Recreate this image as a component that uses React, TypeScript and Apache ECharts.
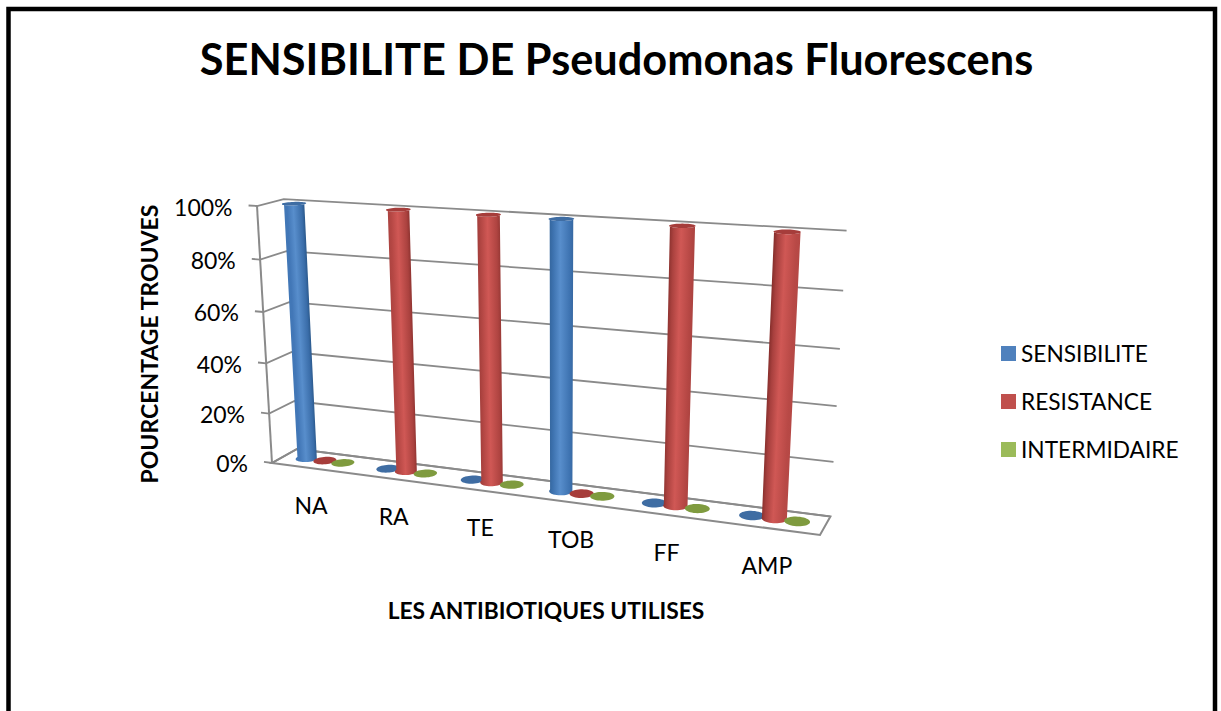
import React, { useEffect, useRef } from "react";
import * as echarts from "echarts";

const categories = ["NA", "RA", "TE", "TOB", "FF", "AMP"];
const sensibilite = [100, 0, 0, 100, 0, 0];
const resistance = [0, 100, 100, 0, 100, 100];
const intermediaire = [0, 0, 0, 0, 0, 0];
const yTicks = [0, 20, 40, 60, 80, 100];
const yTickLabels = ["0%", "20%", "40%", "60%", "80%", "100%"];
const seriesNames = ["SENSIBILITE", "RESISTANCE", "INTERMIDAIRE"];
const seriesColors = ["#4F81BD", "#C0504D", "#9BBB59"];
const FONT = "Lato, 'Open Sans', sans-serif";

const GRID = { left: 100, top: 100, width: 600, height: 400 };

// Perspective of the 3-D box: front-left-bottom corner and the three edge ends
const P0 = [272, 463];
const PX = [820, 535];
const PY = [257, 206];
const PZ = [297, 449];
const WX = -0.135;
const WY = -0.05;
const WZ = 0.03;

function vec(end: number[], w: number) {
  return [end[0] * (1 + w) - P0[0], end[1] * (1 + w) - P0[1]];
}
const BX = vec(PX, WX);
const BY = vec(PY, WY);
const BZ = vec(PZ, WZ);

function project(u: number, v: number, z: number): number[] {
  const w = 1 + WX * u + WY * v + WZ * z;
  return [
    (P0[0] + BX[0] * u + BY[0] * v + BZ[0] * z) / w,
    (P0[1] + BX[1] * u + BY[1] * v + BZ[1] * z) / w,
  ];
}

function toUnit(api: any, cat: number, val: number) {
  const p = api.coord([cat, val]);
  return [(p[0] - GRID.left) / GRID.width, (GRID.top + GRID.height - p[1]) / GRID.height];
}

const SLOT = 0.0373;
const RU = 0.0205;
const RZ = 0.25;
const ZC = 0.53;
const GREY = "#8a8a8a";

function arc(u: number, v: number, from: number, to: number, n: number) {
  const pts: number[][] = [];
  for (let k = 0; k <= n; k++) {
    const t = from + ((to - from) * k) / n;
    pts.push(project(u + RU * Math.cos(t), v, ZC + RZ * Math.sin(t)));
  }
  return pts;
}

function mix(a: number[], b: number[], t: number) {
  const c = a.map((x, i) => Math.round(x + (b[i] - x) * t));
  return `rgb(${c[0]},${c[1]},${c[2]})`;
}

const shades = [
  { mid: [88, 142, 204], side: [66, 120, 184], dark: [42, 88, 138], cap: "#3f6da3" },
  { mid: [208, 88, 85], side: [186, 74, 71], dark: [130, 44, 42], cap: "#a63d3b" },
  { mid: [160, 190, 95], side: [140, 170, 80], dark: [100, 125, 50], cap: "#7f9b3f" },
];

function cylinderRenderer(s: number) {
  return (_p: any, api: any) => {
    const cat = api.value(0);
    const val = api.value(1);
    const [u0, v] = toUnit(api, cat, val);
    const u = u0 + (s - 1) * SLOT;
    const children: any[] = [];
    const sh = shades[s];
    if (val > 0) {
      const base = arc(u, 0, Math.PI, 2 * Math.PI, 20);
      const top = arc(u, v, 2 * Math.PI, Math.PI, 20);
      const a = base[0];
      const b = base[20];
      const c = top[20];
      const d = top[0];
      // Gradient runs across the leaning cylinder, perpendicular to its axis
      const bc = [(a[0] + b[0]) / 2, (a[1] + b[1]) / 2];
      const tc = [(c[0] + d[0]) / 2, (c[1] + d[1]) / 2];
      const mc = [(bc[0] + tc[0]) / 2, (bc[1] + tc[1]) / 2];
      const ax = [tc[0] - bc[0], tc[1] - bc[1]];
      const len = Math.hypot(ax[0], ax[1]);
      const n = [-ax[1] / len, ax[0] / len];
      const half = (Math.hypot(b[0] - a[0], b[1] - a[1]) + Math.hypot(d[0] - c[0], d[1] - c[1])) / 4;
      const sign = n[0] < 0 ? -1 : 1;
      const fill = new echarts.graphic.LinearGradient(
        mc[0] - n[0] * half * sign,
        mc[1] - n[1] * half * sign,
        mc[0] + n[0] * half * sign,
        mc[1] + n[1] * half * sign,
        [
          { offset: 0, color: mix(sh.side, sh.dark, u) },
          { offset: 0.14, color: mix(sh.side, sh.dark, u * 0.35) },
          { offset: 0.45, color: mix(sh.mid, sh.mid, 0) },
          { offset: 0.86, color: mix(sh.side, sh.dark, (1 - u) * 0.35) },
          { offset: 1, color: mix(sh.side, sh.dark, 1 - u) },
        ],
        true as any
      );
      children.push({ type: "polygon", shape: { points: base.concat(top) }, style: { fill } });
    }
    children.push({
      type: "polygon",
      shape: { points: arc(u, v, 0, 2 * Math.PI, 40) },
      style: { fill: sh.cap },
    });
    return { type: "group", children };
  };
}

function wallRenderer(p: any, api: any) {
  const tick = api.value(1);
  const [, v] = toUnit(api, 0, tick);
  const children: any[] = [
    {
      type: "polyline",
      shape: { points: [project(-0.017, v, 0), project(0, v, 0), project(0, v, 1), project(1, v, 1)] },
      style: { stroke: GREY, lineWidth: 1.8, fill: "none" },
    },
  ];
  if (tick === 0) {
    children.push({
      type: "polygon",
      shape: { points: [project(0, 0, 0), project(1, 0, 0), project(1, 0, 1), project(0, 0, 1)] },
      style: { stroke: GREY, lineWidth: 2, fill: "none" },
    });
    children.push({
      type: "polyline",
      shape: { points: [project(0, 0, 0), project(0, 1, 0)] },
      style: { stroke: GREY, lineWidth: 2, fill: "none" },
    });
  }
  const tip = project(-0.017, v, 0);
  children.push({
    type: "text",
    style: {
      text: yTickLabels[p.dataIndex],
      x: tip[0] - 16,
      y: tip[1] + 1,
      align: "right",
      verticalAlign: "middle",
      fontSize: 23,
      fontFamily: FONT,
      fill: "#000",
    },
  });
  return { type: "group", children };
}

function categoryLabelRenderer(_p: any, api: any) {
  const cat = api.value(0);
  const [u] = toUnit(api, cat, 0);
  const p = project(u, 0, 0);
  return {
    type: "text",
    style: {
      text: categories[cat],
      x: p[0] - 1,
      y: p[1] + 37,
      align: "center",
      verticalAlign: "middle",
      fontSize: 23,
      fontFamily: FONT,
      fill: "#000",
    },
  };
}

export default function App() {
  const ref = useRef<HTMLDivElement>(null);
  useEffect(() => {
    const chart = echarts.init(ref.current!, undefined, { renderer: "svg" });
    const values = [sensibilite, resistance, intermediaire];
    chart.setOption({
      animation: false,
      backgroundColor: "#fff",
      color: seriesColors,
      title: {
        text: "SENSIBILITE DE Pseudomonas Fluorescens",
        left: 611.5,
        top: 31,
        textAlign: "center",
        textStyle: { fontFamily: FONT, fontWeight: "bold", fontSize: 43.3, color: "#000" },
      },
      legend: {
        orient: "vertical",
        left: 1001,
        top: 342,
        padding: 0,
        itemWidth: 15,
        itemHeight: 15,
        itemGap: 25,
        itemStyle: { borderWidth: 0 },
        selectedMode: false,
        data: seriesNames.map((name, i) => ({ name, icon: "rect", itemStyle: { color: seriesColors[i] } })),
        textStyle: { fontFamily: FONT, fontSize: 22.7, color: "#000" },
      },
      grid: GRID,
      xAxis: { type: "category", data: categories, show: false },
      yAxis: { type: "value", min: 0, max: 100, interval: 20, show: false },
      graphic: [
        {
          type: "rect",
          shape: { x: 8.5, y: 9, width: 1206.5, height: 760 },
          style: { fill: "none", stroke: "#000", lineWidth: 4.5 },
          silent: true,
        },
        {
          type: "text",
          style: {
            text: "LES ANTIBIOTIQUES UTILISES",
            x: 546,
            y: 610,
            align: "center",
            verticalAlign: "middle",
            fontSize: 22.8,
            fontWeight: "bold",
            fontFamily: FONT,
            fill: "#000",
          },
        },
        {
          type: "text",
          x: 149,
          y: 344,
          rotation: Math.PI / 2,
          style: {
            text: "POURCENTAGE TROUVES",
            x: 0,
            y: 0,
            align: "center",
            verticalAlign: "middle",
            fontSize: 23,
            fontWeight: "bold",
            fontFamily: FONT,
            fill: "#000",
          },
        },
      ],
      series: [
        ...seriesNames.map((name, s) => ({
          type: "custom",
          name,
          z: 5,
          clip: false,
          itemStyle: { color: seriesColors[s] },
          renderItem: cylinderRenderer(s),
          data: values[s].map((v, i) => [i, v]),
        })),
        {
          type: "custom",
          name: "axes",
          z: 1,
          clip: false,
          silent: true,
          renderItem: wallRenderer,
          data: yTicks.map((t) => [0, t]),
        },
        {
          type: "custom",
          name: "categoryLabels",
          z: 1,
          clip: false,
          silent: true,
          renderItem: categoryLabelRenderer,
          data: categories.map((_, i) => [i, 0]),
        },
      ],
    });
    return () => chart.dispose();
  }, []);
  return <div ref={ref} style={{ position: "absolute", left: 0, top: 0, width: 1221, height: 711 }} />;
}
